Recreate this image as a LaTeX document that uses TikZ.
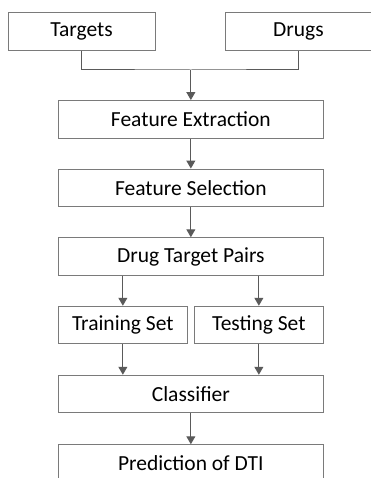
\documentclass[tikz,border=0pt]{standalone}
\usepackage{fontspec}
\setmainfont{Carlito}
\usetikzlibrary{arrows.meta}
\definecolor{boxline}{HTML}{7A7A7A}
\definecolor{arrowcol}{HTML}{5A5A5A}
\begin{document}
\begin{tikzpicture}[x=1pt,y=1pt,
  box/.style={draw=boxline,line width=1pt,fill=white,inner sep=0pt,
    minimum height=37.5pt,font=\fontsize{21.5}{24}\selectfont,text=black},
  wide/.style={box,minimum width=264.3pt},
  half/.style={box,minimum width=128.3pt},
  top/.style={box,minimum width=147pt},
  conn/.style={draw=arrowcol,line width=1pt},
  arr/.style={conn,-{Triangle[width=9pt,length=8pt]}}]
\useasboundingbox (0,0) rectangle (371,-478);
\node[top]  (targets) at (81.5,-31.5) {Targets};
\node[top]  (drugs)   at (298.5,-31.5) {Drugs};
\node[wide] (fe)  at (190.85,-119.3) {Feature Extraction};
\node[wide] (fs)  at (190.85,-187.8) {Feature Selection};
\node[wide] (dtp) at (190.85,-256.5) {Drug Target Pairs};
\node[half] (train) at (122.85,-325) {Training Set};
\node[half] (test)  at (258.85,-325) {Testing Set};
\node[wide] (clf) at (190.85,-394) {Classifier};
\node[wide] (pred) at (190.85,-463.5) {Prediction of DTI};
\coordinate (join) at (190.85,-70);
\draw[conn] (targets.south) |- (join) -| (drugs.south);
\draw[arr] (join) -- (fe.north);
\draw[arr] (fe) -- (fs);
\draw[arr] (fs) -- (dtp);
\draw[arr] (dtp.south -| train) -- (train.north);
\draw[arr] (dtp.south -| test) -- (test.north);
\draw[arr] (train.south) -- (train.south |- clf.north);
\draw[arr] (test.south) -- (test.south |- clf.north);
\draw[arr] (clf) -- (pred);
\end{tikzpicture}
\end{document}
